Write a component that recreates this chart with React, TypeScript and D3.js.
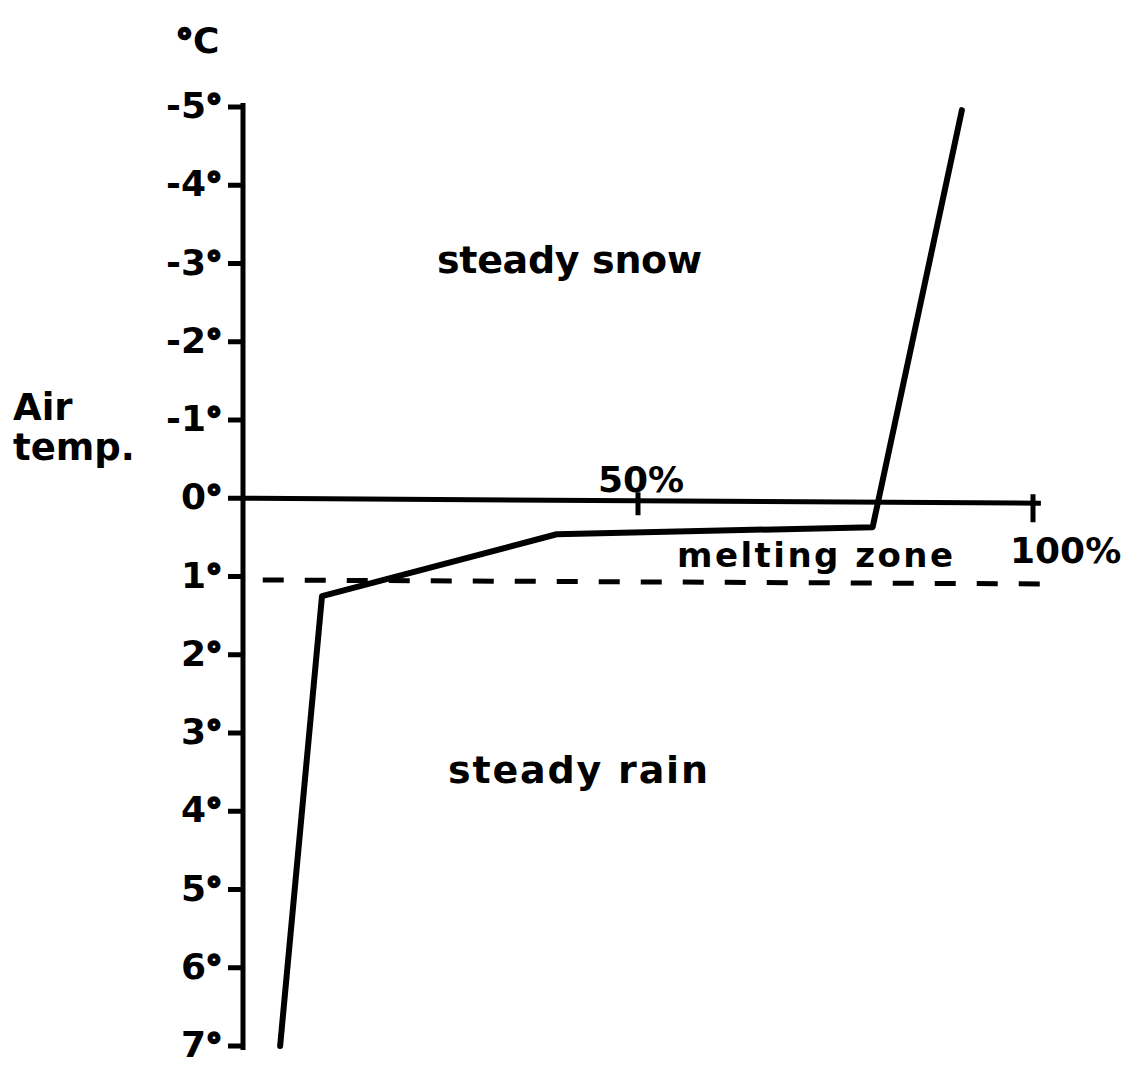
import React from 'react';
import * as d3 from 'd3';

// temperature ticks (°C, positive = above freezing, drawn downwards)
const tempTicks = [-5, -4, -3, -2, -1, 0, 1, 2, 3, 4, 5, 6, 7];
const tempLabels = ['-5', '-4', '-3', '-2', '-1', '0', '1', '2', '3', '4', '5', '6', '7'];

// percent of snow in precipitation vs air temperature
const curvePercent = [4.7, 10.0, 39.7, 79.7, 91.0];
const curveTemp = [7.0, 1.25, 0.46, 0.37, -4.96];

// upper edge of the melting zone
const meltingLimit = 1.07;
const meltingSpan = [2.5, 102];

const percentTicks = [50, 100];
const percentLabels = ['50%', '100%'];

const FONT = '"DejaVu Sans", sans-serif';

const Deg: React.FC<{ size: number }> = ({ size }) => (
  <tspan fontSize={size} stroke="#000" strokeWidth={2.5}>°</tspan>
);

const App: React.FC = () => {
  const width = 1139;
  const height = 1065;

  const x = d3.scaleLinear().domain([0, 100]).range([243, 1033]);
  const y = d3.scaleLinear().domain([-5, 7]).range([107, 1046]);

  const line = d3
    .line<number>()
    .x((_, i) => x(curvePercent[i]))
    .y((d) => y(d));

  const y0 = y(0);

  return (
    <svg
      width={width}
      height={height}
      style={{ position: 'absolute', left: 0, top: 0, background: '#fff' }}
      fontFamily={FONT}
      fontWeight="bold"
    >
      {/* unit */}
      <text x={176} y={53} fontSize={36}>
        <Deg size={34} />C
      </text>

      {/* axis title */}
      <text x={13} y={420} fontSize={37}>Air</text>
      <text x={13} y={460} fontSize={37}>temp.</text>

      {/* y axis */}
      <line x1={243} x2={243} y1={y(-5) - 4} y2={y(7) + 4} stroke="#000" strokeWidth={5} />
      {tempTicks.map((t, i) => (
        <g key={t}>
          <line x1={228} x2={243} y1={y(t)} y2={y(t)} stroke="#000" strokeWidth={5} />
          <text x={222} y={y(t) + 11} fontSize={36} textAnchor="end">
            {tempLabels[i]}
            <Deg size={32} />
          </text>
        </g>
      ))}

      {/* x axis at 0° */}
      <line x1={x(0)} x2={x(101)} y1={y0} y2={y0 + 5} stroke="#000" strokeWidth={5} />
      <line x1={x(50)} x2={x(50)} y1={y0 - 6} y2={y0 + 17} stroke="#000" strokeWidth={5} />
      <line x1={x(100)} x2={x(100)} y1={y0 - 4} y2={y0 + 24} stroke="#000" strokeWidth={5} />
      <text x={x(50) - 40} y={492} fontSize={36}>{percentLabels[0]}</text>
      <text x={1010} y={563} fontSize={36}>{percentLabels[1]}</text>

      {/* melting zone limit */}
      <line
        x1={x(meltingSpan[0])}
        x2={x(meltingSpan[1])}
        y1={y(meltingLimit) - 2}
        y2={y(meltingLimit) + 2}
        stroke="#000"
        strokeWidth={5}
        strokeDasharray="21 21"
      />

      {/* curve */}
      <path
        d={line(curveTemp) ?? ''}
        fill="none"
        stroke="#000"
        strokeWidth={6}
        strokeLinejoin="round"
        strokeLinecap="round"
      />

      {/* region labels */}
      <text x={437} y={273} fontSize={38} textLength={265} lengthAdjust="spacing">steady snow</text>
      <text x={448} y={783} fontSize={38} textLength={260} lengthAdjust="spacing">steady rain</text>
      <text x={677} y={567} fontSize={34} textLength={276} lengthAdjust="spacing">melting zone</text>
    </svg>
  );
};

export default App;
